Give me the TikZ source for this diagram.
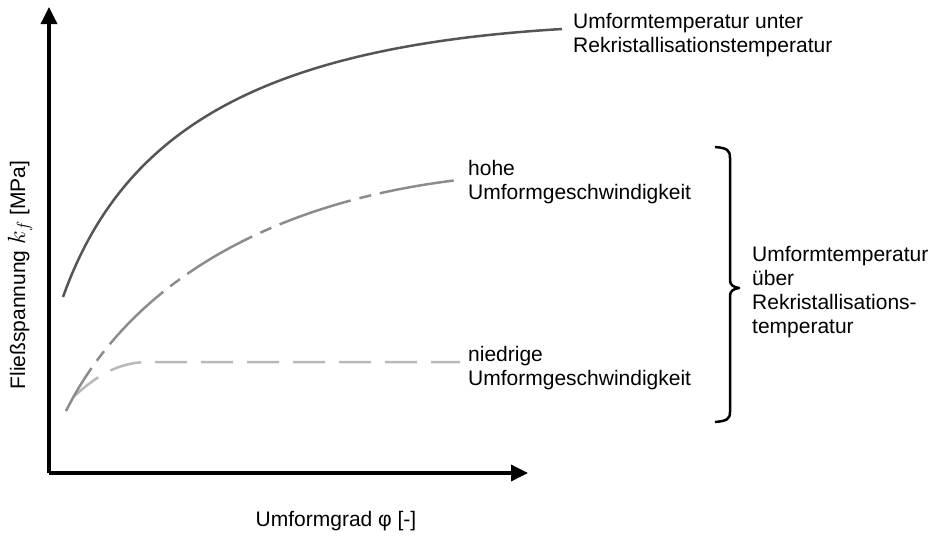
\documentclass[tikz,border=0pt]{standalone}
\usepackage{fontspec}
\setmainfont{Liberation Sans}
\usetikzlibrary{arrows.meta}
\definecolor{cone}{HTML}{555555}
\definecolor{ctwo}{HTML}{8C8C8C}
\definecolor{cthree}{HTML}{B8B8B8}
\begin{document}
\begin{tikzpicture}[x=1pt,y=-1pt,
  lbl/.style={font=\fontsize{21}{24}\selectfont, align=left, inner sep=0pt, anchor=north west},
  axisline/.style={line width=3.5pt, -{Triangle[length=17pt,width=16pt]}},
  curve/.style={line width=2.5pt, line join=round}]
\useasboundingbox (0,0) rectangle (932,538);
% axes
\coordinate (O) at (49,473);
\coordinate (ytip) at (49,7);
\coordinate (xtip) at (528,473);
\draw[axisline] (O) -- (ytip);
\draw[axisline] (O) -- (xtip);
% curve points
\coordinate (lowA) at (73,397);
\coordinate (lowB) at (150,362);
\coordinate (lowE) at (460,362);
\coordinate (midA) at (66,411);
\coordinate (midE) at (458,180);
\coordinate (topA) at (63,297);
\coordinate (topE) at (562,29);
% low strain rate (light, dashed)
\draw[curve, cthree, dash pattern=on 32pt off 14pt, dash phase=0pt]
  (lowA) .. controls (95,378) and (115,362) .. (lowB) -- (lowE);
% high strain rate (mid gray, dash-dot)
\draw[curve, ctwo, dash pattern=on 75pt off 9pt on 12pt off 9pt, dash phase=25pt]
  (midA) .. controls (126,291) and (258,204) .. (midE);
% below recrystallisation temperature (dark, solid)
\draw[curve, cone]
  (topA) .. controls (123,129) and (262,47) .. (topE);
% brace
\draw[line width=2.5pt, line join=round]
  (715,147) .. controls (727,148) and (730,150) .. (730,158) -- (730,280)
  .. controls (730,285) and (733,287) .. (739,288)
  .. controls (733,289) and (730,291) .. (730,296) -- (730,412)
  .. controls (730,419) and (727,421) .. (715,422);
% labels
\node[lbl] (tlab) at (573,13) {Umformtemperatur unter\\Rekristallisationstemperatur};
\node[lbl] (hlab) at (468,160) {hohe\\Umformgeschwindigkeit};
\node[lbl] (nlab) at (468,346) {niedrige\\Umformgeschwindigkeit};
\node[lbl] (rlab) at (752,246) {Umformtemperatur\\über\\Rekristallisations-\\temperatur};
\node[font=\fontsize{21}{24}\selectfont, inner sep=0pt, rotate=90] (ylab) at (20,275) {Fließspannung {\fontsize{26}{24}\selectfont$k_f$} [MPa]};
\node[font=\fontsize{21}{24}\selectfont, inner sep=0pt, anchor=base] (xlab) at (336,526) {Umformgrad φ [-]};
\end{tikzpicture}
\end{document}
